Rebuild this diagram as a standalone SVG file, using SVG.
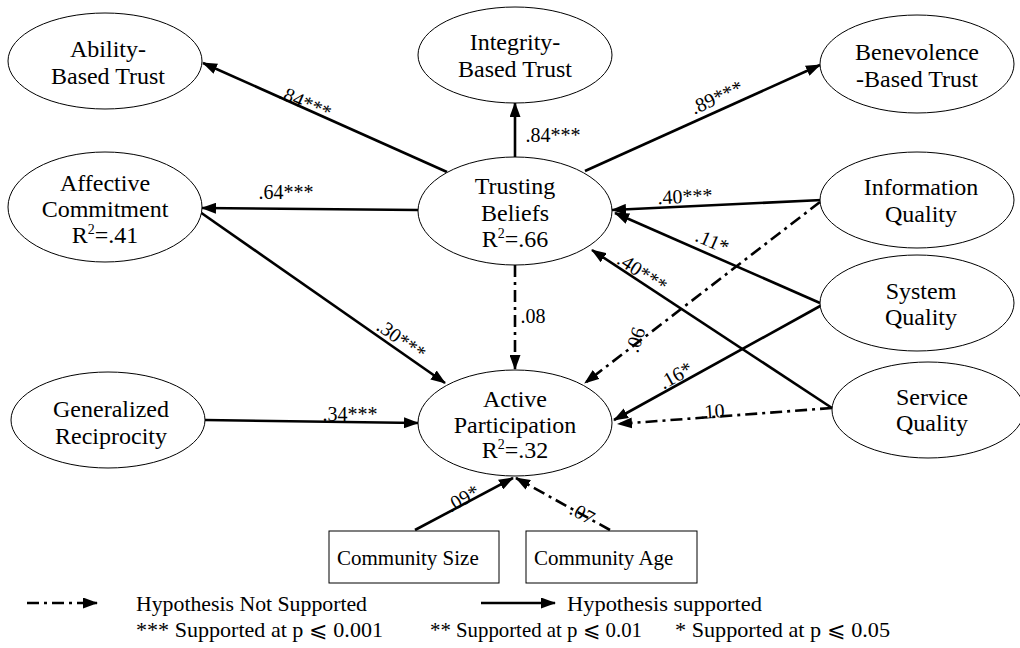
<svg xmlns="http://www.w3.org/2000/svg" width="1020" height="648" viewBox="0 0 1020 648">
<defs>
<marker id="ah" markerUnits="userSpaceOnUse" markerWidth="15" markerHeight="11" refX="14" refY="5.5" orient="auto">
<path d="M0,0 L15,5.5 L0,11 z" fill="#000"/>
</marker>
<style>
.n ellipse,.n rect{fill:#fff;stroke:#000;stroke-width:1}
.n text{font-family:"Liberation Serif","Times New Roman",serif;font-size:24px;text-anchor:middle;fill:#000}
.n text.b{font-size:21px;text-anchor:start}
.s{font-size:14px}
.e{stroke:#000;stroke-width:2.6;fill:none;marker-end:url(#ah)}
.d{stroke-dasharray:12 5 3 5}
.l{font-family:"Liberation Serif","Times New Roman",serif;font-size:20px;fill:#000;text-anchor:middle}
.lg{font-family:"Liberation Serif","Times New Roman",serif;font-size:21px;fill:#000}
</style>
</defs>
<rect width="1020" height="648" fill="#fff"/>
<g id="connectors">
<line class="e" x1="447" y1="172" x2="203" y2="63"/>
<line class="e" x1="515" y1="157" x2="515" y2="103"/>
<line class="e" x1="585" y1="171" x2="820" y2="65"/>
<line class="e" x1="418" y1="210" x2="202" y2="208"/>
<line class="e" x1="200" y1="212" x2="445" y2="383"/>
<line class="e" x1="205" y1="420" x2="418" y2="423"/>
<line class="e d" x1="515" y1="265" x2="515" y2="369"/>
<line class="e" x1="822" y1="200" x2="612" y2="210"/>
<line class="e" x1="820" y1="303" x2="615" y2="213"/>
<line class="e" x1="832" y1="408" x2="592" y2="250"/>
<line class="e d" x1="820" y1="202" x2="585" y2="383"/>
<line class="e" x1="822" y1="305" x2="614" y2="420"/>
<line class="e d" x1="832" y1="408" x2="618" y2="424"/>
<line class="e" x1="415" y1="530" x2="513" y2="478"/>
<line class="e d" x1="610" y1="530" x2="516" y2="478"/>
<text class="l" x="305" y="109" transform="rotate(24 305 103)">.84***</text>
<text class="l" x="553" y="142">.84***</text>
<text class="l" x="717" y="104" transform="rotate(-24 717 98)">.89***</text>
<text class="l" x="286" y="199">.64***</text>
<text class="l" x="401" y="346" transform="rotate(35.5 401 340)">.30***</text>
<text class="l" x="350" y="421">.34***</text>
<text class="l" x="533" y="323">.08</text>
<text class="l" x="685" y="203" transform="rotate(-2.7 685 197)">.40***</text>
<text class="l" x="712" y="248" transform="rotate(23.7 712 242)">.11*</text>
<text class="l" x="642" y="279" transform="rotate(33.4 642 273)">.40***</text>
<text class="l" x="636" y="346" transform="rotate(-72 636 340)">.06</text>
<text class="l" x="676" y="382" transform="rotate(-29 676 376)">.16*</text>
<text class="l" x="712" y="418" transform="rotate(-4 712 412)">.10</text>
<text class="l" x="463" y="505" transform="rotate(-29 463 499)">.09*</text>
<text class="l" x="582" y="520" transform="rotate(29 582 514)">.07</text>
</g>
<g id="ability" class="n"><ellipse cx="105" cy="61" rx="97" ry="48"/><text x="108" y="57">Ability-</text><text x="108" y="84">Based Trust</text></g>
<g id="integrity" class="n"><ellipse cx="515" cy="55" rx="97" ry="48"/><text x="515" y="50">Integrity-</text><text x="515" y="77">Based Trust</text></g>
<g id="benevolence" class="n"><ellipse cx="917" cy="64" rx="97" ry="49"/><text x="917" y="60">Benevolence</text><text x="917" y="87">-Based Trust</text></g>
<g id="affective" class="n"><ellipse cx="105" cy="207" rx="97" ry="55"/><text x="105" y="191">Affective</text><text x="105" y="217">Commitment</text><text x="105" y="243">R<tspan class="s" dy="-9">2</tspan><tspan dy="9">=.41</tspan></text></g>
<g id="trusting" class="n"><ellipse cx="515" cy="211" rx="97" ry="54"/><text x="515" y="194">Trusting</text><text x="515" y="221">Beliefs</text><text x="515" y="247">R<tspan class="s" dy="-9">2</tspan><tspan dy="9">=.66</tspan></text></g>
<g id="information" class="n"><ellipse cx="917" cy="200" rx="97" ry="48"/><text x="921" y="195">Information</text><text x="921" y="222">Quality</text></g>
<g id="system" class="n"><ellipse cx="917" cy="303" rx="97" ry="48"/><text x="921" y="299">System</text><text x="921" y="325">Quality</text></g>
<g id="service" class="n"><ellipse cx="928" cy="410" rx="96" ry="48"/><text x="932" y="405">Service</text><text x="932" y="431">Quality</text></g>
<g id="generalized" class="n"><ellipse cx="108" cy="420" rx="97" ry="48"/><text x="111" y="417">Generalized</text><text x="111" y="444">Reciprocity</text></g>
<g id="active" class="n"><ellipse cx="515" cy="423" rx="97" ry="53"/><text x="515" y="407">Active</text><text x="515" y="433">Participation</text><text x="515" y="458">R<tspan class="s" dy="-9">2</tspan><tspan dy="9">=.32</tspan></text></g>
<g id="size" class="n"><rect x="329" y="531" width="170" height="52"/><text class="b" x="337" y="565">Community Size</text></g>
<g id="age" class="n"><rect x="526" y="531" width="171" height="52"/><text class="b" x="534" y="565">Community Age</text></g>
<g id="legend">
<line class="e d" x1="27" y1="603" x2="97" y2="603"/>
<line class="e" x1="481" y1="603" x2="555" y2="603"/>
<text class="lg" x="136" y="611" textLength="231" lengthAdjust="spacingAndGlyphs">Hypothesis Not Supported</text>
<text class="lg" x="567" y="611" textLength="195" lengthAdjust="spacingAndGlyphs">Hypothesis supported</text>
<text class="lg" x="136" y="637" textLength="247" lengthAdjust="spacingAndGlyphs">*** Supported at p ⩽ 0.001</text>
<text class="lg" x="430" y="637" textLength="212" lengthAdjust="spacingAndGlyphs">** Supported at p ⩽ 0.01</text>
<text class="lg" x="675" y="637" textLength="215" lengthAdjust="spacingAndGlyphs">* Supported at p ⩽ 0.05</text>
</g>
</svg>
